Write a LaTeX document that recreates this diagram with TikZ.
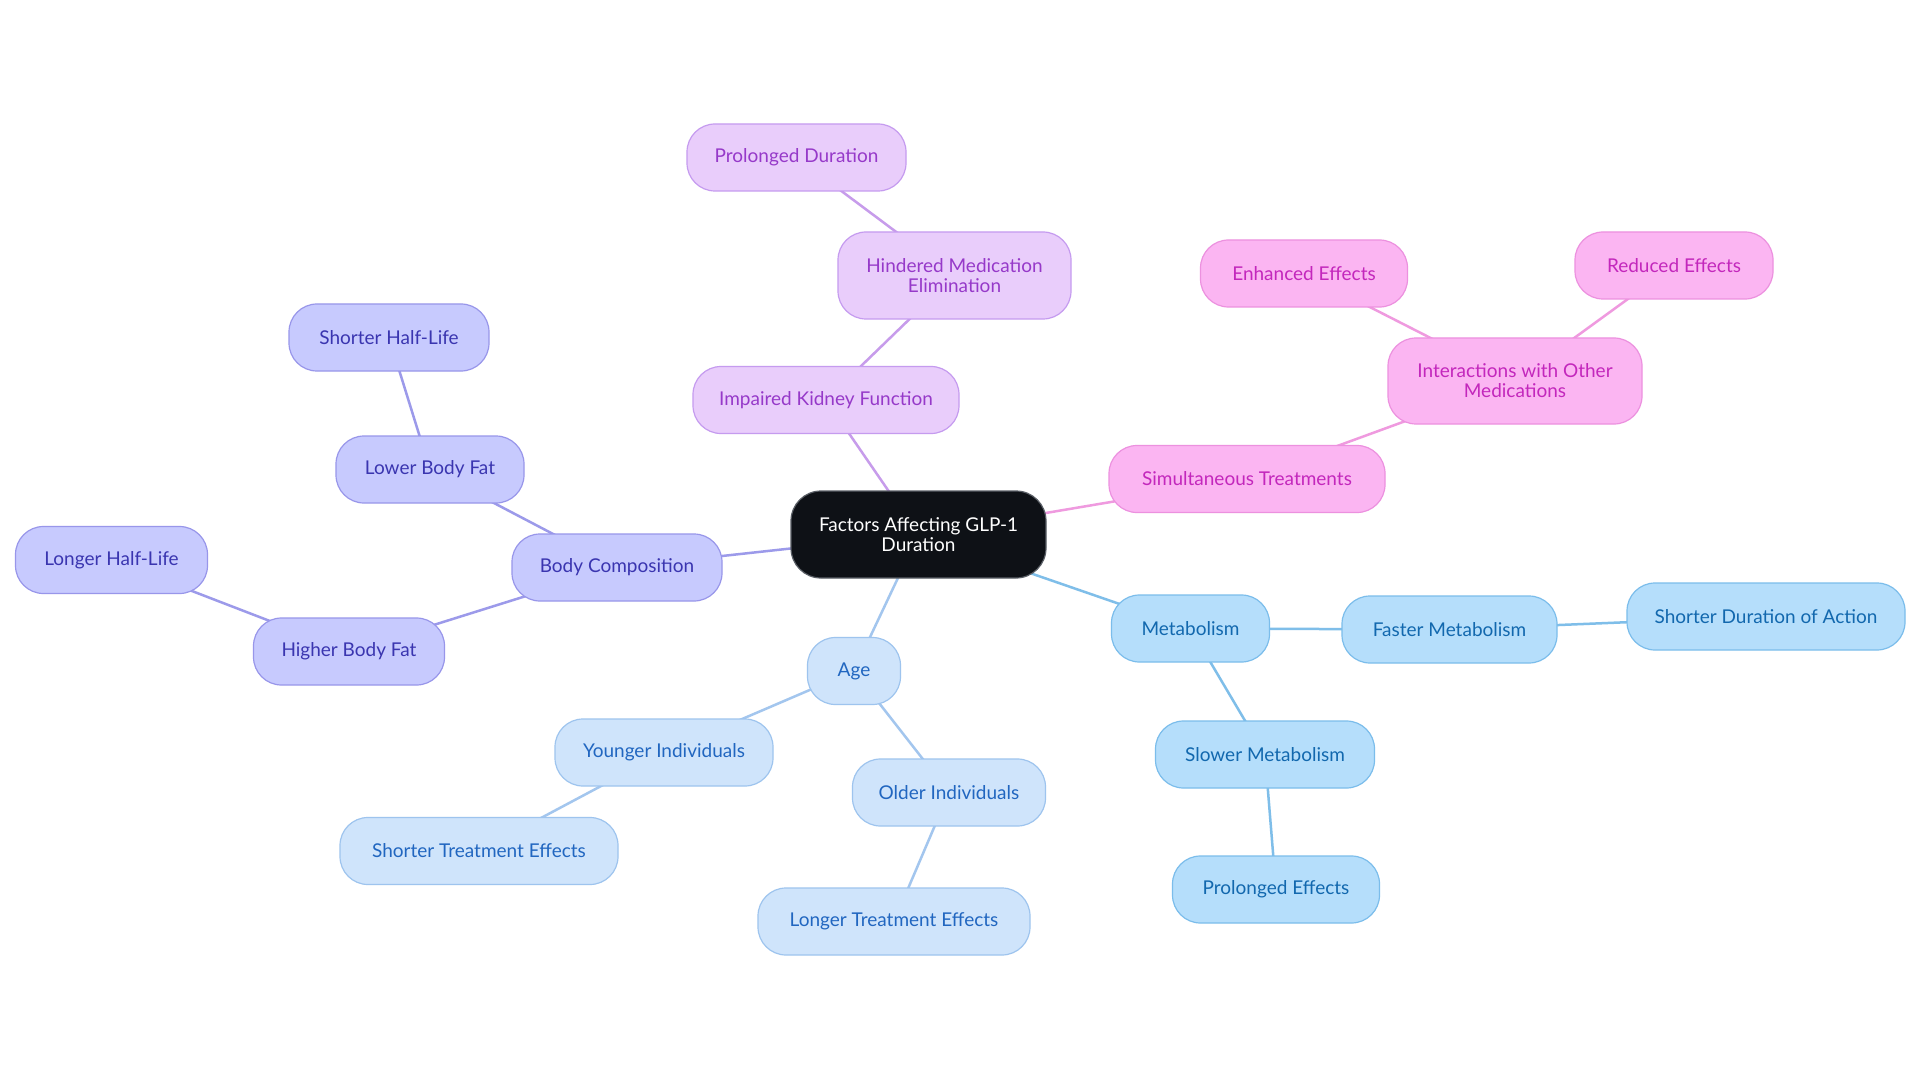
\documentclass[tikz,border=0pt]{standalone}
\usepackage{fontspec}
\setmainfont{Lato}
\usetikzlibrary{backgrounds}
\definecolor{purF}{HTML}{E9CDFB}
\definecolor{purD}{HTML}{C59BEF}
\definecolor{purT}{HTML}{9639C9}
\definecolor{purE}{HTML}{C79CEB}
\definecolor{pnkF}{HTML}{FBB5F2}
\definecolor{pnkD}{HTML}{EC91DF}
\definecolor{pnkT}{HTML}{C327BC}
\definecolor{pnkE}{HTML}{EF9ADF}
\definecolor{indF}{HTML}{C7CAFE}
\definecolor{indD}{HTML}{9896EA}
\definecolor{indT}{HTML}{3A35B0}
\definecolor{indE}{HTML}{9C9AEA}
\definecolor{lblF}{HTML}{CFE4FB}
\definecolor{lblD}{HTML}{9EC4EE}
\definecolor{lblT}{HTML}{2166C0}
\definecolor{lblE}{HTML}{A3C6EE}
\definecolor{skyF}{HTML}{B5DEFB}
\definecolor{skyD}{HTML}{7BBDEB}
\definecolor{skyT}{HTML}{1268AE}
\definecolor{skyE}{HTML}{7FBEE9}
\definecolor{ctrF}{HTML}{0E1116}
\definecolor{ctrD}{HTML}{5A5F66}
\begin{document}
\begin{tikzpicture}[x=1pt,y=-1pt,
  box/.style={draw, rounded corners=28pt, line width=1.2pt, minimum height=67pt,
    inner sep=0pt, align=center, font=\fontsize{19}{20}\selectfont},
  pur/.style={box, fill=purF, draw=purD, text=purT},
  pnk/.style={box, fill=pnkF, draw=pnkD, text=pnkT},
  ind/.style={box, fill=indF, draw=indD, text=indT},
  lbl/.style={box, fill=lblF, draw=lblD, text=lblT},
  sky/.style={box, fill=skyF, draw=skyD, text=skyT},
  ctr/.style={box, fill=ctrF, draw=ctrD, text=white, rounded corners=30pt},
  link/.style={line width=2.5pt},
  epur/.style={link, draw=purE},
  epnk/.style={link, draw=pnkE},
  eind/.style={link, draw=indE},
  elbl/.style={link, draw=lblE},
  esky/.style={link, draw=skyE}]
\useasboundingbox (0,0) rectangle (1920,1083);

\node[ctr, minimum width=255pt, minimum height=87pt] (c) at (918.5,534.5) {Factors Affecting GLP-1\\Duration};

\node[pur, minimum width=219pt] (pd) at (796.5,157.5) {Prolonged Duration};
\node[pur, minimum width=233pt, minimum height=87pt] (hme) at (954.5,275.5) {Hindered Medication\\Elimination};
\node[pur, minimum width=266pt] (ikf) at (826,400) {Impaired Kidney Function};

\node[pnk, minimum width=207pt] (ee) at (1304,273.5) {Enhanced Effects};
\node[pnk, minimum width=198pt] (re) at (1674,265.5) {Reduced Effects};
\node[pnk, minimum width=254pt, minimum height=86pt] (iom) at (1515,381) {Interactions with Other\\Medications};
\node[pnk, minimum width=276pt] (st) at (1247,479) {Simultaneous Treatments};

\node[ind, minimum width=200pt] (shl) at (389,337.5) {Shorter Half-Life};
\node[ind, minimum width=188pt] (lbf) at (430,469.5) {Lower Body Fat};
\node[ind, minimum width=192pt] (lhl) at (111.5,560) {Longer Half-Life};
\node[ind, minimum width=210pt] (bc) at (617,567.5) {Body Composition};
\node[ind, minimum width=191pt] (hbf) at (349,651.5) {Higher Body Fat};

\node[lbl, minimum width=93pt] (age) at (854,671) {Age};
\node[lbl, minimum width=218pt] (yi) at (664,752.5) {Younger Individuals};
\node[lbl, minimum width=278pt] (ste) at (479,851) {Shorter Treatment Effects};
\node[lbl, minimum width=193pt] (oi) at (949,792.5) {Older Individuals};
\node[lbl, minimum width=272pt] (lte) at (894,921.5) {Longer Treatment Effects};

\node[sky, minimum width=158pt] (met) at (1190.5,628.5) {Metabolism};
\node[sky, minimum width=215pt] (fm) at (1449.5,629.5) {Faster Metabolism};
\node[sky, minimum width=278pt] (sda) at (1766,616.5) {Shorter Duration of Action};
\node[sky, minimum width=219pt] (sm) at (1265,754.5) {Slower Metabolism};
\node[sky, minimum width=207pt] (pe) at (1276,889.5) {Prolonged Effects};

\begin{pgfonlayer}{background}
\fill[white] (0,0) rectangle (1920,1083);
\draw[epur] (c.center) -- (ikf.center);
\draw[epur] (ikf.center) -- (hme.center);
\draw[epur] (hme.center) -- (pd.center);
\draw[epnk] (c.center) -- (st.center);
\draw[epnk] (st.center) -- (iom.center);
\draw[epnk] (iom.center) -- (ee.center);
\draw[epnk] (iom.center) -- (re.center);
\draw[eind] (c.center) -- (bc.center);
\draw[eind] (bc.center) -- (lbf.center);
\draw[eind] (lbf.center) -- (shl.center);
\draw[eind] (bc.center) -- (hbf.center);
\draw[eind] (hbf.center) -- (lhl.center);
\draw[elbl] (c.center) -- (age.center);
\draw[elbl] (age.center) -- (yi.center);
\draw[elbl] (yi.center) -- (ste.center);
\draw[elbl] (age.center) -- (oi.center);
\draw[elbl] (oi.center) -- (lte.center);
\draw[esky] (c.center) -- (met.center);
\draw[esky] (met.center) -- (fm.center);
\draw[esky] (fm.center) -- (sda.center);
\draw[esky] (met.center) -- (sm.center);
\draw[esky] (sm.center) -- (pe.center);
\end{pgfonlayer}
\end{tikzpicture}
\end{document}
